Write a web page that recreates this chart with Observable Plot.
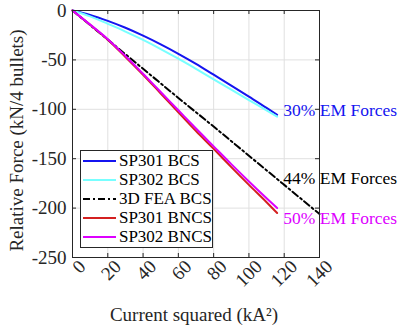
<!DOCTYPE html>
<html><head><meta charset="utf-8">
<script src="https://cdn.jsdelivr.net/npm/d3@7"></script>
<script src="https://cdn.jsdelivr.net/npm/@observablehq/plot@0.6"></script>
<style>
body{margin:0;background:#fff;}
#wrap{position:relative;width:401px;height:333px;font-family:"Liberation Serif","Times New Roman",serif;}
#legend{position:absolute;left:80px;top:150px;width:131px;height:96px;border:1px solid #262626;background:#fff;box-sizing:content-box;}
.row{display:flex;align-items:center;height:19.2px;font-size:17px;color:#000;white-space:nowrap;}
.row svg{margin-left:2px;margin-right:3px;}
</style></head><body><div id="wrap"></div>
<script>
const xTicks = [0, 20, 40, 60, 80, 100, 120, 140];
const yTicks = [0, -50, -100, -150, -200, -250];
const xTitle = "Current squared (kA²)";
const yTitle = "Relative Force (kN/4 bullets)";

const seriesNames = ["SP301 BCS", "SP302 BCS", "3D FEA BCS", "SP301 BNCS", "SP302 BNCS"];
const seriesColors = ["#1414f0", "#78ffff", "#000000", "#d42020", "#dd00ff"];
const seriesDash = [null, null, "7,3,2,3", null, null];

const bcsX = [0, 10, 20, 30, 40, 50, 60, 70, 80, 90, 100, 110, 116];
const sp301BCS = [0, -4.5, -10.5, -17.5, -25.5, -34.3, -43.8, -54, -65, -76, -87.2, -98.5, -105.5];
const sp302BCS = [0, -6, -13.5, -21.3, -29.8, -39, -48.8, -59.1, -69.6, -80.1, -90.6, -101.1, -107.4];

const feaX = [0, 20, 40, 60, 80, 100, 120, 140];
const fea3D = [0, -29.5, -59, -88.5, -117.5, -147, -176.5, -206];

const sp301BNCS = [0, -14.5, -29.5, -47, -65, -84, -103, -122, -140, -158.5, -176.5, -194, -205];
const sp302BNCS = [0, -14.3, -29, -46, -64, -82.5, -101, -119.5, -137.5, -155.5, -173, -190, -200];

const noteText = ["30% EM Forces", "44% EM Forces", "50% EM Forces"];
const noteX = [119.5, 119.5, 119.5];
const noteY = [-101, -170, -210.5];
const noteColor = ["#1414f0", "#000000", "#dd00ff"];

const seriesX = [bcsX, bcsX, feaX, bcsX, bcsX];
const seriesY = [sp301BCS, sp302BCS, fea3D, sp301BNCS, sp302BNCS];

const lineMarks = seriesNames.map((name, i) => {
  const rows = seriesX[i].map((x, j) => ({x, y: seriesY[i][j]}));
  return Plot.line(rows, {x: "x", y: "y", stroke: seriesColors[i], strokeWidth: 2, curve: "monotone-x",
    strokeDasharray: seriesDash[i] || undefined});
});
const notes = noteText.map((t, i) => ({t, x: noteX[i], y: noteY[i], c: noteColor[i]}));

const plot = Plot.plot({
  width: 401, height: 333,
  marginLeft: 72, marginRight: 82, marginTop: 10, marginBottom: 76,
  style: {fontFamily: '"Liberation Serif","Times New Roman",serif', fontSize: "19px", color: "#262626", background: "#fff", overflow: "visible"},
  x: {domain: [0, 140]},
  y: {domain: [-250, 0]},
  marks: [
    Plot.gridX(xTicks, {stroke: "#e0e0e0", strokeOpacity: 1}),
    Plot.gridY(yTicks, {stroke: "#e0e0e0", strokeOpacity: 1}),
    ...lineMarks,
    Plot.frame({stroke: "#262626", strokeWidth: 1}),
    Plot.tickX(xTicks, {x: d => d, insetTop: 243, stroke: "#262626"}),
    Plot.tickX(xTicks, {x: d => d, insetBottom: 243, stroke: "#262626"}),
    Plot.tickY(yTicks, {y: d => d, insetRight: 243, stroke: "#262626"}),
    Plot.tickY(yTicks, {y: d => d, insetLeft: 243, stroke: "#262626"}),
    Plot.axisX(xTicks, {tickSize: 0, tickPadding: 6, tickRotate: -45, dx: 10, tickFormat: d => String(d),
      label: null, fill: "#262626"}),
    Plot.axisY(yTicks, {tickSize: 0, tickPadding: 6, tickFormat: d => String(d),
      label: null, fill: "#262626"}),
    Plot.text([xTitle], {text: d => d, frameAnchor: "bottom", dy: 57, dx: -2, lineAnchor: "middle", textAnchor: "middle", fill: "#262626", fontSize: 19}),
    Plot.text([yTitle], {text: d => d, frameAnchor: "left", dx: -56, dy: 6.5, rotate: -90, lineAnchor: "middle", textAnchor: "middle", fill: "#262626", fontSize: 19}),
    Plot.text(notes, {x: "x", y: "y", text: "t", fill: "c", textAnchor: "start", fontSize: 17.5})
  ]
});
const wrap = document.getElementById("wrap");
wrap.appendChild(plot);

const legend = document.createElement("div");
legend.id = "legend";
seriesNames.forEach((name, i) => {
  const row = document.createElement("div");
  row.className = "row";
  row.innerHTML = `<svg width="33" height="6"><line x1="0" y1="3" x2="33" y2="3" stroke="${seriesColors[i]}" stroke-width="2" ${seriesDash[i] ? `stroke-dasharray="${seriesDash[i]}"` : ""}/></svg><span>${name}</span>`;
  legend.appendChild(row);
});
wrap.appendChild(legend);
</script>
</body></html>
